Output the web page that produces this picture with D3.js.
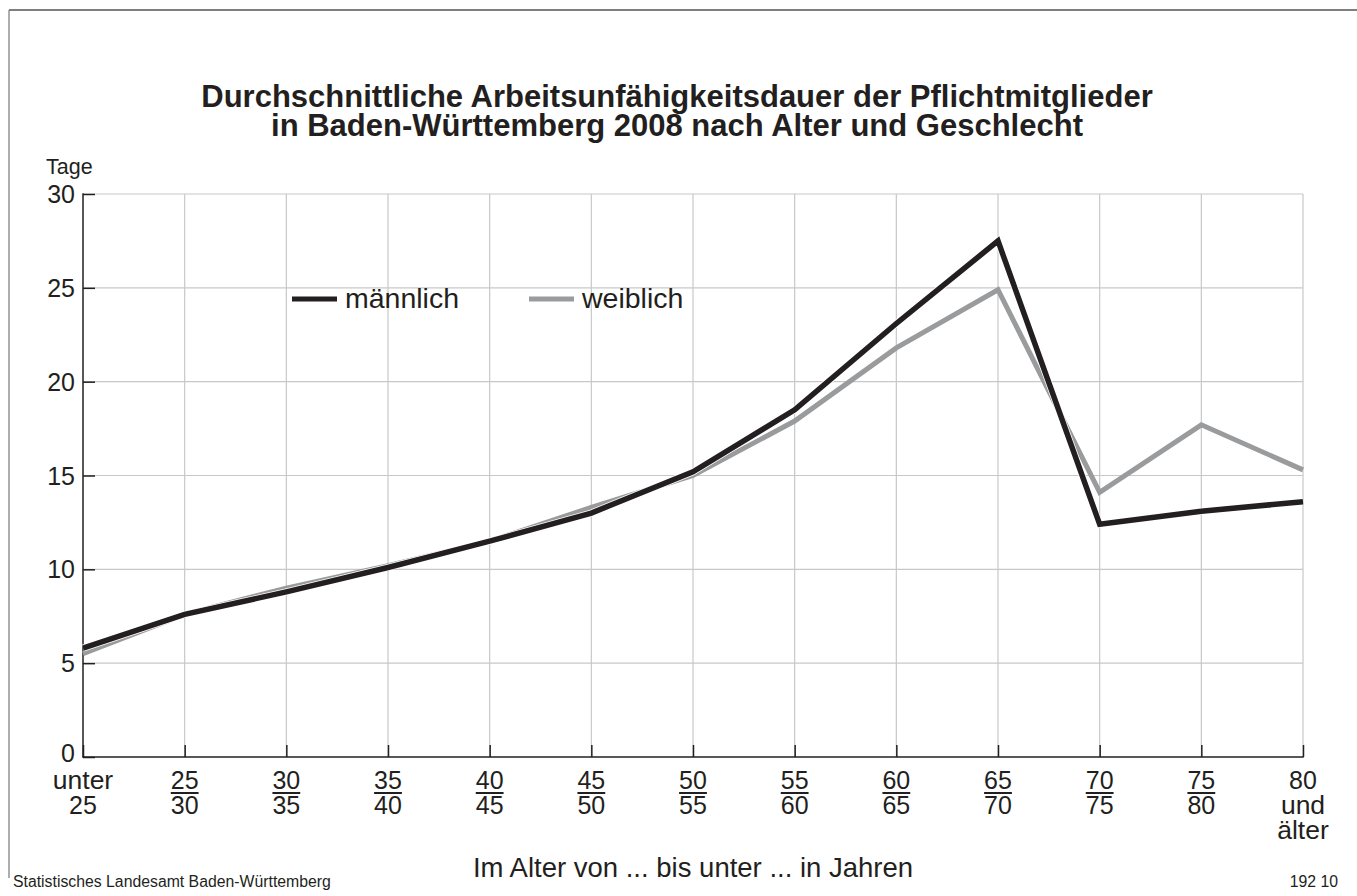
<!DOCTYPE html>
<html><head><meta charset="utf-8">
<script src="https://cdn.jsdelivr.net/npm/d3@7"></script>
<style>
body{margin:0;background:#fff;}
svg{display:block;font-family:"Liberation Sans",Arial,sans-serif;}
</style></head><body>
<svg id="c" width="1357" height="896"></svg>
<script>
const categories = ["unter 25","25-30","30-35","35-40","40-45","45-50","50-55","55-60","60-65","65-70","70-75","75-80","80 und älter"];
const maennlich = [5.8, 7.6, 8.8, 10.1, 11.5, 13.0, 15.2, 18.5, 23.1, 27.5, 12.4, 13.1, 13.6];
const weiblich  = [5.5, 7.6, 9.0, 10.2, 11.5, 13.3, 15.0, 17.9, 21.8, 24.9, 14.1, 17.7, 15.3];
const yTicks = [0, 5, 10, 15, 20, 25, 30];
const xLabels = [["unter","25"],["25","30"],["30","35"],["35","40"],["40","45"],["45","50"],["50","55"],["55","60"],["60","65"],["65","70"],["70","75"],["75","80"],["80","und","älter"]];
const titleLines = ["Durchschnittliche Arbeitsunfähigkeitsdauer der Pflichtmitglieder","in Baden-Württemberg 2008 nach Alter und Geschlecht"];

const svg = d3.select("#c");
const ink = "#231f20", grey = "#9a9b9d", grid = "#c8c8c8";
const x = d3.scalePoint().domain(categories).range([83, 1303]);
const y = d3.scaleLinear().domain([0, 30]).range([757, 194]);

// frame
svg.append("line").attr("x1",9).attr("x2",1357).attr("y1",10).attr("y2",10).attr("stroke","#555").attr("stroke-width",1.5);
svg.append("line").attr("x1",9).attr("x2",9).attr("y1",10).attr("y2",878).attr("stroke","#777").attr("stroke-width",1.2);

// title (one text element, two lines)
const title = svg.append("text").attr("x",677).attr("y",107).attr("text-anchor","middle")
  .attr("font-size",31).attr("font-weight","bold").attr("fill",ink);
title.selectAll("tspan").data(titleLines).join("tspan")
  .attr("x",677).attr("dy",(d,i)=>i===0?0:29).text(d=>d);

// grid
svg.append("g").selectAll("line").data(yTicks.filter(d=>d>0)).join("line")
  .attr("x1",83).attr("x2",1303).attr("y1",d=>y(d)).attr("y2",d=>y(d)).attr("stroke",grid).attr("stroke-width",1.2);
svg.append("g").selectAll("line").data(categories.slice(1)).join("line")
  .attr("x1",d=>x(d)).attr("x2",d=>x(d)).attr("y1",y(30)).attr("y2",y(0)).attr("stroke",grid).attr("stroke-width",1.2);

// y axis
const yAxis = d3.axisRight(y).tickValues(yTicks).tickSize(12).tickFormat("");
const gy = svg.append("g").attr("transform","translate(83,0)").call(yAxis);
gy.select(".domain").remove();
gy.selectAll(".tick line").attr("stroke",ink).attr("stroke-width",1.5);
svg.append("line").attr("x1",83).attr("x2",83).attr("y1",y(30)-0.75).attr("y2",y(0)).attr("stroke",ink).attr("stroke-width",1.5);
svg.append("g").selectAll("text").data(yTicks).join("text")
  .attr("x",75).attr("y",d=>y(d)).attr("dy",d=>d===0?"0.2em":"0.36em").attr("text-anchor","end")
  .attr("font-size",25).attr("fill",ink).text(d=>d);
svg.append("text").attr("x",46).attr("y",174).attr("font-size",21.5).attr("fill",ink).text("Tage");

// x axis
const xAxis = d3.axisTop(x).tickSize(12).tickFormat("");
const gx = svg.append("g").attr("transform","translate(0,757)").call(xAxis);
gx.select(".domain").remove();
gx.selectAll(".tick line").attr("stroke",ink).attr("stroke-width",1.5);
svg.append("line").attr("x1",83-0.75).attr("x2",1303+0.75).attr("y1",757).attr("y2",757).attr("stroke",ink).attr("stroke-width",1.5);

const lab = svg.append("g").selectAll("g").data(categories).join("g").attr("transform",d=>`translate(${x(d)},0)`);
lab.each(function(d,i){
  const g = d3.select(this);
  const parts = xLabels[i];
  const t = g.append("text").attr("x",0).attr("y",789).attr("text-anchor","middle").attr("fill",ink).attr("font-size",25);
  parts.forEach((p,j)=>{
    const isWord = /[a-zä]/.test(p);
    t.append("tspan").attr("x",0).attr("dy",j===0?0:25)
      .attr("font-size",isWord?26.5:25).text(p);
  });
  if (i>0 && i<categories.length-1){
    const w = t.select("tspan").node().getComputedTextLength();
    g.append("line").attr("x1",-w/2).attr("x2",w/2).attr("y1",793).attr("y2",793).attr("stroke",ink).attr("stroke-width",2);
  }
});
svg.append("text").attr("x",693).attr("y",877).attr("text-anchor","middle").attr("font-size",27.5).attr("fill",ink)
  .text("Im Alter von ... bis unter ... in Jahren");

// lines
const line = d3.line().x((d,i)=>x(categories[i])).y(d=>y(d));
svg.append("path").datum(weiblich).attr("d",line).attr("fill","none").attr("stroke",grey).attr("stroke-width",5).attr("stroke-linejoin","miter");
svg.append("path").datum(maennlich).attr("d",line).attr("fill","none").attr("stroke","#fff").attr("stroke-width",7).attr("stroke-linejoin","miter");
svg.append("path").datum(maennlich).attr("d",line).attr("fill","none").attr("stroke",ink).attr("stroke-width",5.5).attr("stroke-linejoin","miter");

// legend
const legend = [{name:"männlich",color:ink,x:292},{name:"weiblich",color:grey,x:529}];
const lg = svg.append("g").selectAll("g").data(legend).join("g").attr("transform",d=>`translate(${d.x},299)`);
lg.append("line").attr("x1",0).attr("x2",45).attr("stroke",d=>d.color).attr("stroke-width",5);
lg.append("text").attr("x",53).attr("y",9).attr("font-size",28.5).attr("fill",ink).text(d=>d.name);

// footer
svg.append("text").attr("x",13).attr("y",887).attr("font-size",15.8).attr("fill",ink).text("Statistisches Landesamt Baden-Württemberg");
svg.append("text").attr("x",1338).attr("y",887).attr("text-anchor","end").attr("font-size",15.8).attr("fill",ink).text("192 10");
</script></body></html>
